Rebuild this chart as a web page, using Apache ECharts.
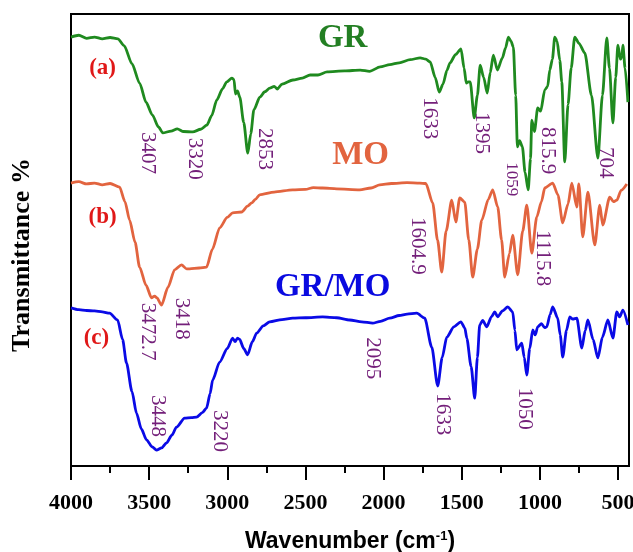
<!DOCTYPE html>
<html>
<head>
<meta charset="utf-8">
<script src="https://cdn.jsdelivr.net/npm/echarts@6/dist/echarts.min.js"></script>
<style>
  html, body { margin: 0; padding: 0; background: #fff; }
  #ftirDiv { width: 633px; height: 552px; }
</style>
</head>
<body>
<div id="ftirDiv"></div>
<script>
// spectra: [wavenumber cm-1, transmittance (arb. units)]
let grSpectrum = [[4000,94.9],[3950,95.3],[3900,94.6],[3850,94.9],[3800,94.5],[3750,94.8],[3700,94.5],[3660,93.0],[3610,89.0],[3561,84.7],[3520,80.5],[3480,77.7],[3440,75.0],[3413,73.7],[3360,74.1],[3320,74.6],[3280,74.0],[3221,73.9],[3170,74.5],[3131,75.4],[3100,77.5],[3067,81.0],[3030,83.5],[3003,85.0],[2971,85.8],[2957,85.5],[2948,82.3],[2935,83.0],[2920,81.6],[2895,76.0],[2869,69.2],[2850,73.5],[2830,78.8],[2792,81.6],[2760,82.8],[2728,83.6],[2700,84.0],[2680,83.4],[2650,84.5],[2580,85.4],[2520,85.8],[2470,86.5],[2420,86.5],[2362,87.2],[2250,87.4],[2150,87.6],[2090,87.3],[2022,88.3],[1960,88.8],[1900,89.2],[1830,89.9],[1766,90.3],[1730,90.0],[1702,89.4],[1670,86.0],[1644,82.7],[1620,84.5],[1595,87.5],[1575,89.2],[1540,91.0],[1505,92.3],[1485,88.0],[1471,84.7],[1458,85.0],[1446,85.0],[1420,77.0],[1400,82.0],[1382,88.7],[1360,86.0],[1337,82.5],[1318,87.0],[1298,90.9],[1272,87.6],[1240,90.3],[1220,92.5],[1202,94.9],[1185,94.0],[1170,92.7],[1155,82.0],[1144,70.6],[1130,72.0],[1112,70.6],[1095,65.0],[1075,61.1],[1060,68.0],[1052,76.5],[1035,74.0],[1014,79.2],[995,78.5],[969,83.2],[950,84.0],[937,87.6],[920,90.0],[905,94.9],[890,94.0],[873,89.8],[860,85.0],[841,67.3],[820,80.0],[800,88.0],[777,94.9],[750,93.5],[713,91.4],[670,82.0],[629,68.1],[600,82.0],[572,94.7],[555,88.0],[533,75.9],[515,86.0],[501,93.1],[485,90.0],[476,90.5],[469,93.1],[455,88.0],[437,80.5]];

let moSpectrum = [[4000,62.6],[3950,62.9],[3900,62.4],[3850,62.6],[3800,62.2],[3750,62.5],[3689,61.7],[3655,58.5],[3625,54.4],[3590,49.5],[3561,44.0],[3520,40.0],[3485,37.2],[3465,37.6],[3450,37.2],[3421,35.6],[3380,39.5],[3337,43.4],[3293,44.5],[3260,43.6],[3241,43.6],[3180,43.8],[3133,44.0],[3095,48.0],[3049,52.7],[3000,55.0],[2966,56.0],[2908,56.2],[2870,57.5],[2844,58.2],[2820,59.0],[2793,60.0],[2700,60.6],[2582,61.1],[2500,61.2],[2450,61.6],[2390,61.5],[2300,61.3],[2153,61.1],[2080,61.5],[2025,62.2],[1950,62.5],[1850,62.7],[1769,62.6],[1730,62.5],[1686,58.2],[1655,50.0],[1628,42.9],[1600,52.0],[1564,58.8],[1538,54.0],[1513,59.3],[1481,58.4],[1455,50.0],[1430,41.8],[1400,48.0],[1372,54.4],[1330,59.0],[1302,61.1],[1270,57.3],[1245,50.0],[1225,41.8],[1195,47.0],[1174,51.1],[1142,42.3],[1110,52.0],[1084,57.7],[1052,47.1],[1020,55.1],[990,58.5],[969,61.5],[918,62.6],[885,60.0],[854,53.8],[820,58.0],[796,62.6],[764,57.3],[751,62.4],[726,50.7],[693,60.6],[649,48.9],[617,57.7],[598,53.3],[553,59.5],[530,58.5],[508,58.8],[480,61.0],[444,62.4]];

let grmoSpectrum = [[4000,35.0],[3950,34.6],[3900,34.4],[3850,34.3],[3800,34.1],[3753,33.8],[3702,32.3],[3670,28.0],[3645,22.8],[3610,16.5],[3581,11.7],[3550,8.2],[3517,5.8],[3480,4.2],[3453,3.5],[3420,4.0],[3389,5.1],[3355,6.8],[3325,8.6],[3273,10.6],[3230,10.7],[3197,10.8],[3160,11.8],[3133,12.8],[3110,16.0],[3094,19.0],[3049,23.0],[3000,26.0],[2966,28.3],[2950,27.5],[2935,28.3],[2921,28.0],[2895,26.0],[2870,24.6],[2840,27.5],[2812,29.4],[2770,31.0],[2729,31.9],[2650,32.4],[2582,32.7],[2500,32.8],[2390,33.0],[2300,32.8],[2217,32.3],[2140,31.9],[2070,31.6],[2020,32.0],[1961,32.7],[1900,33.3],[1850,33.6],[1788,33.8],[1737,32.7],[1692,26.3],[1654,17.7],[1625,24.0],[1596,28.5],[1550,30.8],[1506,31.9],[1480,30.5],[1468,28.3],[1440,22.0],[1417,15.0],[1400,24.0],[1385,31.2],[1366,32.2],[1340,30.8],[1310,33.0],[1289,34.1],[1270,33.0],[1240,34.3],[1206,35.2],[1174,34.1],[1160,30.0],[1148,25.7],[1116,27.2],[1100,24.0],[1084,20.1],[1065,26.0],[1046,30.1],[1030,29.0],[1014,30.8],[990,31.5],[970,30.6],[956,30.8],[935,33.5],[918,35.2],[886,32.7],[870,29.0],[854,24.1],[830,30.0],[809,33.0],[790,32.5],[764,32.7],[732,26.1],[710,30.0],[693,32.3],[660,28.0],[629,23.9],[600,28.5],[565,32.3],[533,28.3],[508,34.1],[490,33.0],[469,34.5],[437,31.2]];

let majorTicks = [4000, 3500, 3000, 2500, 2000, 1500, 1000, 500];
let minorTicks = [3750, 3250, 2750, 2250, 1750, 1250, 750];

// peak labels: text, wavenumber and transmittance where the (rotated) text starts
let peakLabels = [
    ['3407', 3510, 73.9], ['3320', 3209, 72.6], ['2853', 2761, 74.8], ['1633', 1705, 81.6],
    ['1395', 1372, 78.3], ['1059', 1180, 67.2], ['815.9', 949, 75.0], ['704', 578, 70.6],
    ['3472.7', 3510, 36.1], ['3418', 3293, 37.2], ['1604.9', 1782, 55.1], ['1115.8', 981, 52.2],
    ['3448', 3446, 15.7], ['3220', 3049, 12.4], ['2095', 2070, 28.5], ['1633', 1622, 16.1], ['1050', 1097, 17.3]
];
let sampleNames = [['GR', 2262, 94.5], ['MO', 2147, 68.8], ['GR/MO', 2326, 39.6]];
let curveTags = [['(a)', 3798, 88.0], ['(b)', 3798, 55.1], ['(c)', 3837, 28.3]];

let cColors = ['#1f8a1f', '#e2643f', '#0a0ae6'];
let nameColors = ['#237f23', '#e2643f', '#0a0ae0'];
let peakColor = '#74207a';
let tagColor = '#e01818';
let serif = '"Liberation Serif", "Times New Roman", serif';

let ftirChart = echarts.init(document.getElementById('ftirDiv'));

function lineSeries(name, data, color) {
    return {
        name: name,
        type: 'line',
        data: data,
        showSymbol: false,
        smooth: 0.25,
        smoothMonotone: 'x',
        lineStyle: { color: color, width: 2.8 },
        z: 3
    };
}

let option = {
    animation: false,
    backgroundColor: '#fff',
    grid: {
        left: 71, right: 4, top: 14, bottom: 86,
        containLabel: false,
        outerBoundsMode: 'none',
        show: true, borderColor: '#000', borderWidth: 2
    },
    xAxis: [{
        type: 'value',
        inverse: true,
        min: 430,
        max: 4000,
        position: 'bottom',
        name: 'Wavenumber (cm{sup|-1})',
        nameLocation: 'middle',
        nameGap: 64,
        nameTextStyle: {
            fontFamily: '"Liberation Sans", Arial, sans-serif',
            fontWeight: 'bold', fontSize: 23, color: '#000',
            rich: {
                sup: { fontFamily: '"Liberation Sans", Arial, sans-serif', fontWeight: 'bold',
                       fontSize: 13, verticalAlign: 'top', color: '#000' }
            }
        },
        axisLine: { show: true, lineStyle: { color: '#000', width: 2 } },
        axisTick: { show: true, inside: false, length: 14, customValues: majorTicks,
                    lineStyle: { color: '#000', width: 2 } },
        axisLabel: { customValues: majorTicks, margin: 26, color: '#000',
                     hideOverlap: false, showMinLabel: true, showMaxLabel: true,
                     formatter: function (v) { return String(v); },
                     fontFamily: serif, fontWeight: 'bold', fontSize: 22 },
        splitLine: { show: false }
    }, {
        type: 'value',
        inverse: true,
        min: 430,
        max: 4000,
        position: 'bottom',
        axisLine: { show: false },
        axisTick: { show: true, inside: false, length: 7, customValues: minorTicks,
                    lineStyle: { color: '#000', width: 2 } },
        axisLabel: { show: false },
        splitLine: { show: false }
    }],
    yAxis: {
        type: 'value',
        min: 0,
        max: 100,
        name: 'Transmittance %',
        nameLocation: 'middle',
        nameGap: 36,
        nameTextStyle: { fontFamily: serif, fontWeight: 'bold', fontSize: 26, color: '#000',
                         padding: [0, 30, 0, 0] },
        axisLine: { show: true, lineStyle: { color: '#000', width: 2 } },
        axisTick: { show: false },
        axisLabel: { show: false },
        splitLine: { show: false }
    },
    series: [
        lineSeries('GR', grSpectrum, cColors[0]),
        lineSeries('MO', moSpectrum, cColors[1]),
        lineSeries('GR/MO', grmoSpectrum, cColors[2])
    ]
};

ftirChart.setOption(option);

// texts placed in data coordinates through the chart's scales
function toPx(wn, t) {
    return ftirChart.convertToPixel({ xAxisIndex: 0, yAxisIndex: 0 }, [wn, t]);
}
let graphics = [];
peakLabels.forEach(function (p) {
    let pt = toPx(p[1], p[2]);
    graphics.push({
        type: 'text', x: pt[0], y: pt[1], rotation: -Math.PI / 2, z: 10,
        style: { text: p[0], fill: peakColor, align: 'left', verticalAlign: 'middle',
                 font: (p[0] === '1059' ? '17px ' : '21px ') + serif }
    });
});
sampleNames.forEach(function (s, i) {
    let pt = toPx(s[1], s[2]);
    graphics.push({
        type: 'text', x: pt[0], y: pt[1], z: 10,
        style: { text: s[0], fill: nameColors[i], align: 'center', verticalAlign: 'middle',
                 font: 'bold 33px ' + serif }
    });
});
curveTags.forEach(function (c) {
    let pt = toPx(c[1], c[2]);
    graphics.push({
        type: 'text', x: pt[0], y: pt[1], z: 10,
        style: { text: c[0], fill: tagColor, align: 'center', verticalAlign: 'middle',
                 font: 'bold 23px ' + serif }
    });
});
ftirChart.setOption({ graphic: graphics });
</script>
</body>
</html>
